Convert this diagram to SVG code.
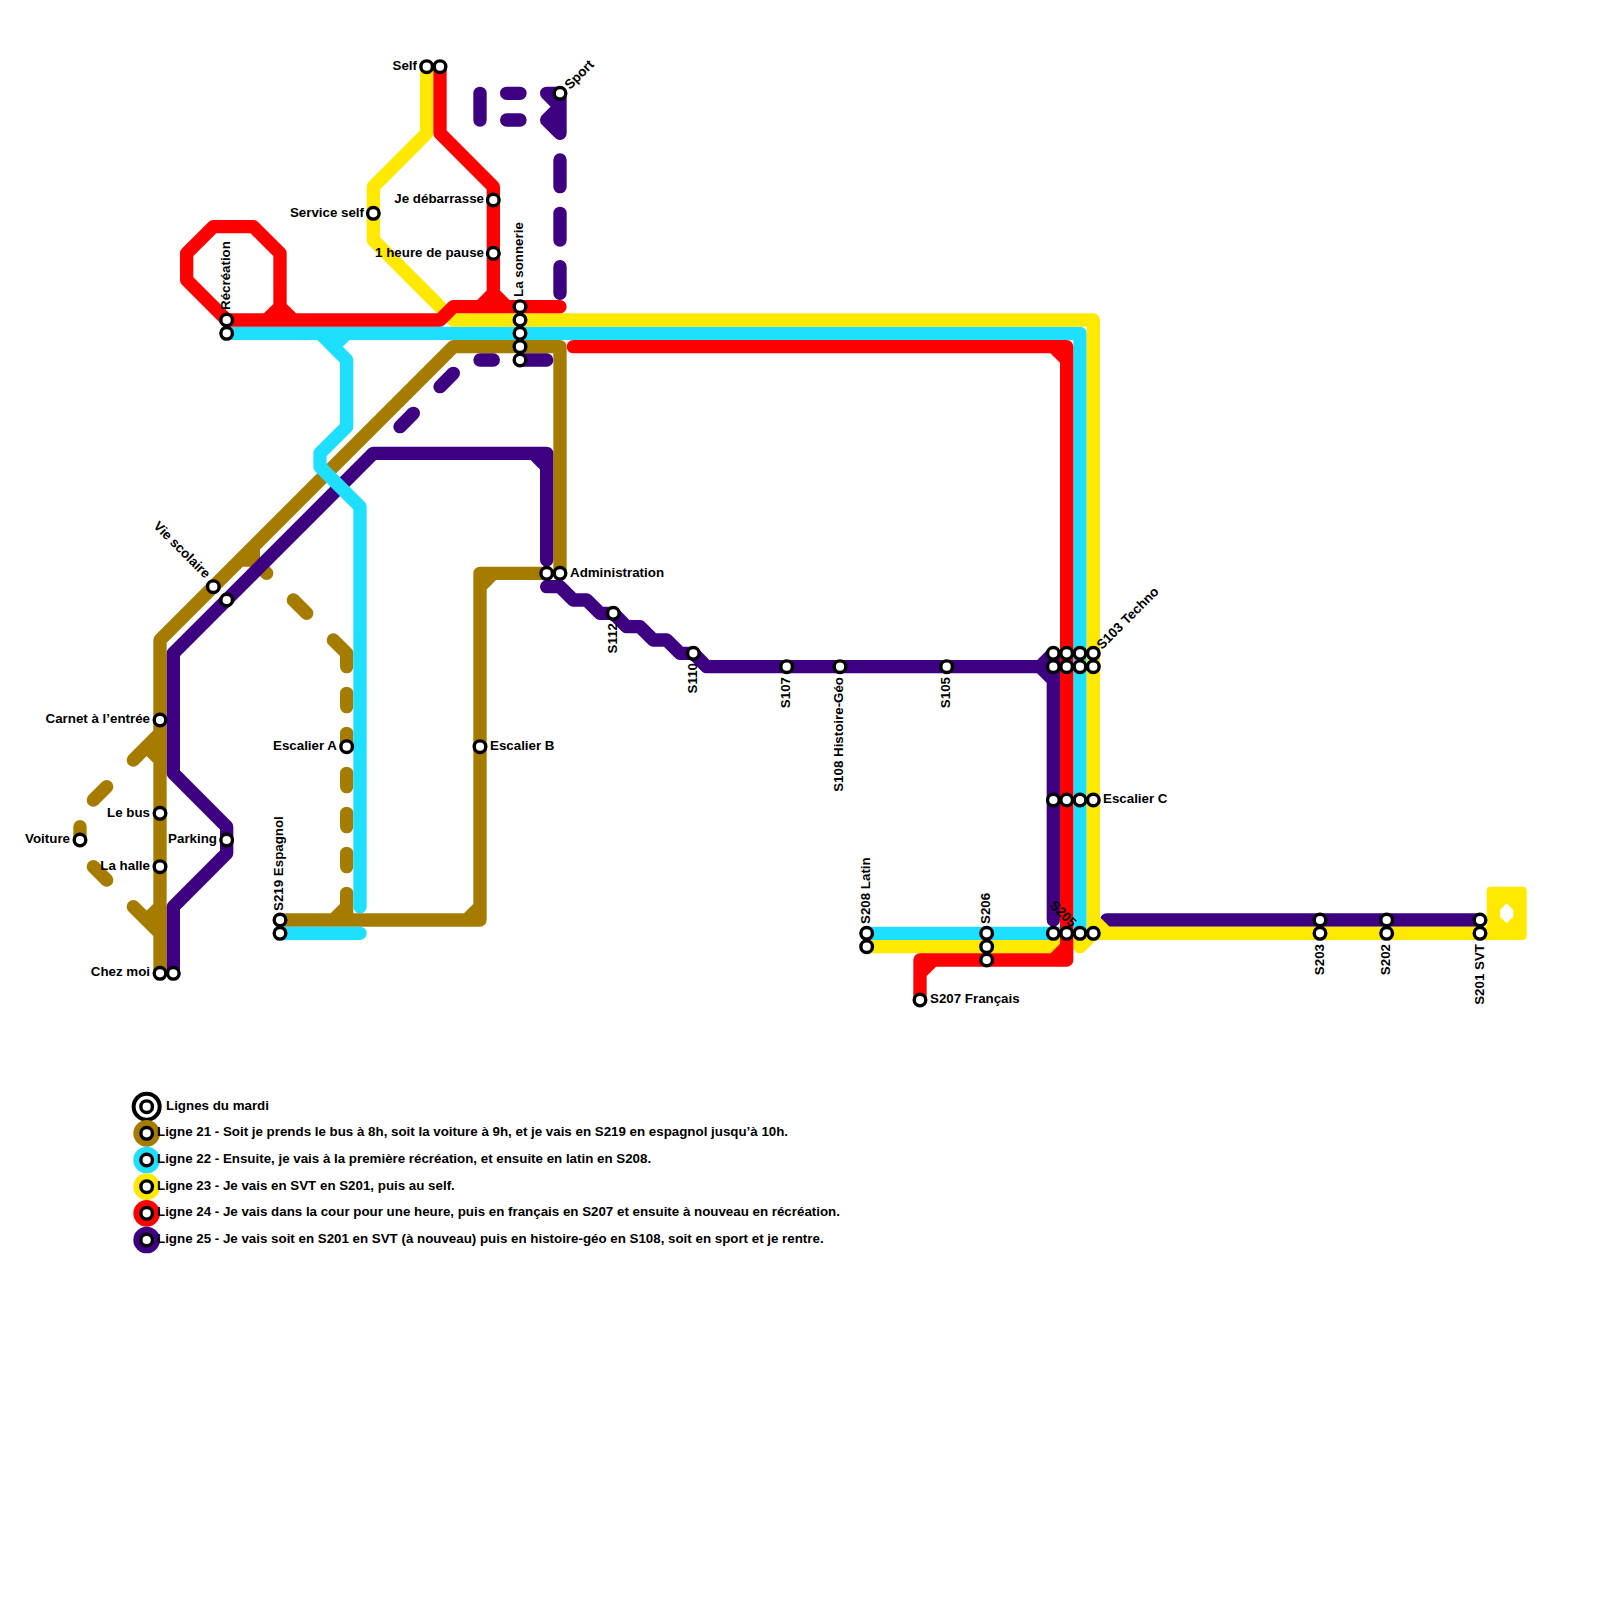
<svg xmlns="http://www.w3.org/2000/svg" width="1600" height="1600" viewBox="0 0 1600 1600">
<style>
.l{fill:none;stroke-width:1;stroke-linecap:round;stroke-linejoin:round}
.b{stroke:#a67c00}.c{stroke:#1fdfff}.y{stroke:#ffe900}.r{stroke:#ff0000}.p{stroke:#3d0080}
.s{fill:#fff;stroke:#000;stroke-width:3.4}
text{font-family:"Liberation Sans",Arial,sans-serif;font-weight:700;font-size:13.33px;fill:#000}
.e{text-anchor:end}
</style>
<rect width="1600" height="1600" fill="#fff"/>
<g id="connectors" transform="scale(13.33333)">
<path id="line21" class="l b" d="M12 73V48L34 26H42V43M41 43H36V69H21M36 44L37 43M35 69L36 68M25 69L26 68M26 69V67M26 65V64M26 62V61M26 59V58M26 56V55M26 53V52M26 50V49L25 48M23 46L22 45M20 43L19.6 42.6M19 41V42H18M12 55L10 57M11 56L12 57M8 59L7 60M6 63V62M7 65L8 66M10 68L12 70M11 69L12 68"/>
<path id="line25" class="l p" d="M13 73V68L17 64V62L13 58V49L28 34H41V42M40 34L41 35M41 44H42L43 45H44L45 46H46L47 47H48L49 48H50L51 49H52L53 50H79M78 50L79 49M78 50L79 51M79 49V69M83 69H111M39 27H41M36 27H37M33 29L34 28M30 32L31 31M36 7V9M38 7H39M38 9H39M41 7H42V10L41 9L42 8L41 7M42 12V14M42 16V18M42 20V22"/>
<path id="line22" class="l c" d="M17 25H81V70M24 25L26 27V32L24 34V35L27 38V68M25 26L26 25M21 70H27M65 70H80"/>
<path id="line23" class="l y" d="M32 5V10L28 14V18L33 23M34 24H82V70H112M65 71H79L80 70M81 70V71L82 70M82 69L83 70"/>
<path id="line23-loop" fill="#ffe900" fill-rule="evenodd" d="M111.8 66.5H114.2Q114.5 66.5 114.5 66.8V70.2Q114.5 70.5 114.2 70.5H111.8Q111.5 70.5 111.5 70.2V66.8Q111.5 66.5 111.8 66.5ZM113 67.75L112.5 68.25V68.75L113 69.25L113.5 68.75V68.25Z"/>
<path id="line24" class="l r" d="M33 5V10L37 14V22M17 24L14 21V19L16 17H19L21 19V23M20 24L21 23L22 24M17 24H33L34 23H42M36 23L37 22L38 23M43 26H80V72H69V75M79 26L80 27M79 72L80 71M70 72L69 73"/>
</g>
<g id="self"><circle class="s" cx="426.67" cy="66.67" r="5.8"/><circle class="s" cx="440" cy="66.67" r="5.8"/><text class="e" x="417" y="70">Self</text></g>
<g id="service-self"><circle class="s" cx="373.33" cy="213.33" r="5.8"/><text class="e" x="364" y="216.5">Service self</text></g>
<g id="je-debarrasse"><circle class="s" cx="493.33" cy="200" r="5.8"/><text class="e" x="484" y="203">Je débarrasse</text></g>
<g id="une-heure"><circle class="s" cx="493.33" cy="253.33" r="5.8"/><text class="e" x="484" y="256.5">1 heure de pause</text></g>
<g id="sport"><circle class="s" cx="560" cy="93.33" r="5.8"/><text transform="translate(570 90) rotate(-45)">Sport</text></g>
<g id="la-sonnerie"><circle class="s" cx="520" cy="306.67" r="5.8"/><circle class="s" cx="520" cy="320" r="5.8"/><circle class="s" cx="520" cy="333.33" r="5.8"/><circle class="s" cx="520" cy="346.67" r="5.8"/><circle class="s" cx="520" cy="360" r="5.8"/><text transform="translate(523 297) rotate(-90)">La sonnerie</text></g>
<g id="recreation"><circle class="s" cx="226.67" cy="320" r="5.8"/><circle class="s" cx="226.67" cy="333.33" r="5.8"/><text transform="translate(230 310) rotate(-90)">Récréation</text></g>
<g id="vie-scolaire"><circle class="s" cx="213.33" cy="586.67" r="5.8"/><circle class="s" cx="226.67" cy="600" r="5.8"/><text class="e" transform="translate(205 579) rotate(45)">Vie scolaire</text></g>
<g id="carnet"><circle class="s" cx="160" cy="720" r="5.8"/><text class="e" x="150" y="722.5">Carnet à l’entrée</text></g>
<g id="le-bus"><circle class="s" cx="160" cy="813.33" r="5.8"/><text class="e" x="150" y="816.5">Le bus</text></g>
<g id="la-halle"><circle class="s" cx="160" cy="866.67" r="5.8"/><text class="e" x="150" y="869.5">La halle</text></g>
<g id="chez-moi"><circle class="s" cx="160" cy="973.33" r="5.8"/><circle class="s" cx="173.33" cy="973.33" r="5.8"/><text class="e" x="150" y="976">Chez moi</text></g>
<g id="voiture"><circle class="s" cx="80" cy="840" r="5.8"/><text class="e" x="70" y="843">Voiture</text></g>
<g id="parking"><circle class="s" cx="226.67" cy="840" r="5.8"/><text class="e" x="217" y="843">Parking</text></g>
<g id="escalier-a"><circle class="s" cx="346.67" cy="746.67" r="5.8"/><text class="e" x="337" y="749.5">Escalier A</text></g>
<g id="escalier-b"><circle class="s" cx="480" cy="746.67" r="5.8"/><text x="490" y="749.5">Escalier B</text></g>
<g id="s219"><circle class="s" cx="280" cy="920" r="5.8"/><circle class="s" cx="280" cy="933.33" r="5.8"/><text transform="translate(282.5 911) rotate(-90)">S219 Espagnol</text></g>
<g id="administration"><circle class="s" cx="546.67" cy="573.33" r="5.8"/><circle class="s" cx="560" cy="573.33" r="5.8"/><text x="570" y="576.5">Administration</text></g>
<g id="s112"><circle class="s" cx="613.33" cy="613.33" r="5.8"/><text class="e" transform="translate(617 623) rotate(-90)">S112</text></g>
<g id="s110"><circle class="s" cx="693.33" cy="653.33" r="5.8"/><text class="e" transform="translate(697 663) rotate(-90)">S110</text></g>
<g id="s107"><circle class="s" cx="786.67" cy="666.67" r="5.8"/><text class="e" transform="translate(790 677) rotate(-90)">S107</text></g>
<g id="s108"><circle class="s" cx="840" cy="666.67" r="5.8"/><text class="e" transform="translate(843 677) rotate(-90)">S108 Histoire-Géo</text></g>
<g id="s105"><circle class="s" cx="946.67" cy="666.67" r="5.8"/><text class="e" transform="translate(950 677) rotate(-90)">S105</text></g>
<g id="s103"><circle class="s" cx="1053.33" cy="653.33" r="5.8"/><circle class="s" cx="1066.67" cy="653.33" r="5.8"/><circle class="s" cx="1080" cy="653.33" r="5.8"/><circle class="s" cx="1093.33" cy="653.33" r="5.8"/><circle class="s" cx="1053.33" cy="666.67" r="5.8"/><circle class="s" cx="1066.67" cy="666.67" r="5.8"/><circle class="s" cx="1080" cy="666.67" r="5.8"/><circle class="s" cx="1093.33" cy="666.67" r="5.8"/><text transform="translate(1102 650) rotate(-45)">S103 Techno</text></g>
<g id="escalier-c"><circle class="s" cx="1053.33" cy="800" r="5.8"/><circle class="s" cx="1066.67" cy="800" r="5.8"/><circle class="s" cx="1080" cy="800" r="5.8"/><circle class="s" cx="1093.33" cy="800" r="5.8"/><text x="1103" y="803">Escalier C</text></g>
<g id="s205"><circle class="s" cx="1053.33" cy="933.33" r="5.8"/><circle class="s" cx="1066.67" cy="933.33" r="5.8"/><circle class="s" cx="1080" cy="933.33" r="5.8"/><circle class="s" cx="1093.33" cy="933.33" r="5.8"/><text transform="translate(1049 906) rotate(45)">S205</text></g>
<g id="s208"><circle class="s" cx="866.67" cy="933.33" r="5.8"/><circle class="s" cx="866.67" cy="946.67" r="5.8"/><text transform="translate(870 924) rotate(-90)">S208 Latin</text></g>
<g id="s206"><circle class="s" cx="986.67" cy="933.33" r="5.8"/><circle class="s" cx="986.67" cy="946.67" r="5.8"/><circle class="s" cx="986.67" cy="960" r="5.8"/><text transform="translate(990 924) rotate(-90)">S206</text></g>
<g id="s207"><circle class="s" cx="920" cy="1000" r="5.8"/><text x="930" y="1003">S207 Français</text></g>
<g id="s203"><circle class="s" cx="1320" cy="920" r="5.8"/><circle class="s" cx="1320" cy="933.33" r="5.8"/><text class="e" transform="translate(1324 944) rotate(-90)">S203</text></g>
<g id="s202"><circle class="s" cx="1386.67" cy="920" r="5.8"/><circle class="s" cx="1386.67" cy="933.33" r="5.8"/><text class="e" transform="translate(1390 944) rotate(-90)">S202</text></g>
<g id="s201"><circle class="s" cx="1480" cy="920" r="5.8"/><circle class="s" cx="1480" cy="933.33" r="5.8"/><text class="e" transform="translate(1484 944) rotate(-90)">S201 SVT</text></g>
<g id="legend">
<circle cx="146.67" cy="1106.67" r="13" fill="#fff" stroke="#000" stroke-width="4"/><circle class="s" cx="146.67" cy="1106.67" r="5.8"/><text x="166" y="1110">Lignes du mardi</text>
<circle cx="146.67" cy="1133.33" r="13.33" fill="#a67c00"/><circle class="s" cx="146.67" cy="1133.33" r="5.8"/><text x="157" y="1136">Ligne 21 - Soit je prends le bus à 8h, soit la voiture à 9h, et je vais en S219 en espagnol jusqu’à 10h.</text>
<circle cx="146.67" cy="1160" r="13.33" fill="#1fdfff"/><circle class="s" cx="146.67" cy="1160" r="5.8"/><text x="157" y="1163">Ligne 22 - Ensuite, je vais à la première récréation, et ensuite en latin en S208.</text>
<circle cx="146.67" cy="1186.67" r="13.33" fill="#ffe900"/><circle class="s" cx="146.67" cy="1186.67" r="5.8"/><text x="157" y="1190">Ligne 23 - Je vais en SVT en S201, puis au self.</text>
<circle cx="146.67" cy="1213.33" r="13.33" fill="#ff0000"/><circle class="s" cx="146.67" cy="1213.33" r="5.8"/><text x="157" y="1216">Ligne 24 - Je vais dans la cour pour une heure, puis en français en S207 et ensuite à nouveau en récréation.</text>
<circle cx="146.67" cy="1240" r="13.33" fill="#3d0080"/><circle class="s" cx="146.67" cy="1240" r="5.8"/><text x="157" y="1243">Ligne 25 - Je vais soit en S201 en SVT (à nouveau) puis en histoire-géo en S108, soit en sport et je rentre.</text>
</g>
</svg>
